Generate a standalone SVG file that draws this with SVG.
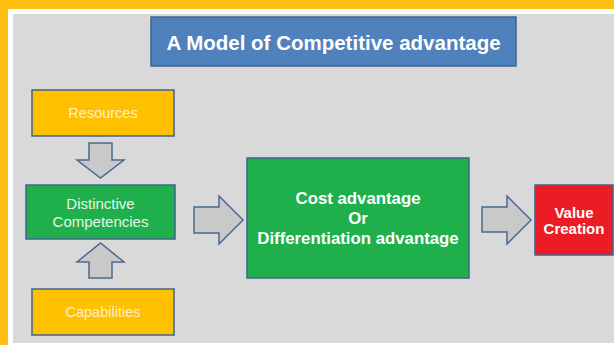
<svg xmlns="http://www.w3.org/2000/svg" width="614" height="345" viewBox="0 0 614 345">
  <style>
    .box { stroke: #41638f; stroke-width: 1.5; }
    .yellow { fill: #ffc000; }
    .green { fill: #1fb04c; }
    .red { fill: #ec1c24; }
    .title { fill: #4f81bd; }
    .arrow { fill: #c9c9c9; stroke: #4a6990; stroke-width: 1.5; stroke-linejoin: miter; }
    text { font-family: "Liberation Sans", Arial, sans-serif; text-anchor: middle; }
    .light { font-size: 14.5px; fill: #fdf0cf; }
    .lightg { font-size: 15px; fill: #e6f5ea; }
    .bold { font-weight: bold; fill: #ffffff; }
  </style>

  <!-- frame -->
  <rect x="0" y="0" width="614" height="345" fill="#fcbf12"/>
  <rect x="8" y="9" width="606" height="336" fill="#ffffff"/>
  <rect x="13" y="14" width="601" height="329" fill="#d9d9d9"/>

  <g id="title">
    <rect class="box title" x="151" y="17" width="365" height="49"/>
    <text class="bold" x="333.5" y="50" font-size="20.5">A Model of Competitive advantage</text>
  </g>

  <g id="resources">
    <rect class="box yellow" x="32" y="90" width="142" height="46"/>
    <text class="light" x="103" y="118">Resources</text>
  </g>

  <g id="competencies">
    <rect class="box green" x="26" y="185" width="149" height="54"/>
    <text class="lightg" x="100.5" y="209">Distinctive</text>
    <text class="lightg" x="100.5" y="227">Competencies</text>
  </g>

  <g id="capabilities">
    <rect class="box yellow" x="32" y="289" width="142" height="46"/>
    <text class="light" x="103" y="317">Capabilities</text>
  </g>

  <g id="advantage">
    <rect class="box green" x="247" y="158" width="222" height="120"/>
    <text class="bold" x="358" y="204" font-size="16.8">Cost advantage</text>
    <text class="bold" x="358" y="224" font-size="16.8">Or</text>
    <text class="bold" x="358" y="244" font-size="16.8">Differentiation advantage</text>
  </g>

  <g id="value">
    <rect class="box red" x="535" y="185" width="78" height="70"/>
    <text class="bold" x="574" y="218" font-size="15">Value</text>
    <text class="bold" x="574" y="234" font-size="15">Creation</text>
  </g>

  <g id="connectors">
    <!-- resources down to competencies -->
    <path class="arrow" d="M89,143 H112 V160 H124 L100.5,178 L77,160 H89 Z"/>
    <!-- capabilities up to competencies -->
    <path class="arrow" d="M89,278 H112 V262 H124 L100.5,243 L77,262 H89 Z"/>
    <!-- competencies to advantage -->
    <path class="arrow" d="M194,207 H219 V196 L243,220 L219,244 V233 H194 Z"/>
    <!-- advantage to value creation -->
    <path class="arrow" d="M482,207 H507 V196 L531,220 L507,244 V232 H482 Z"/>
  </g>
</svg>
